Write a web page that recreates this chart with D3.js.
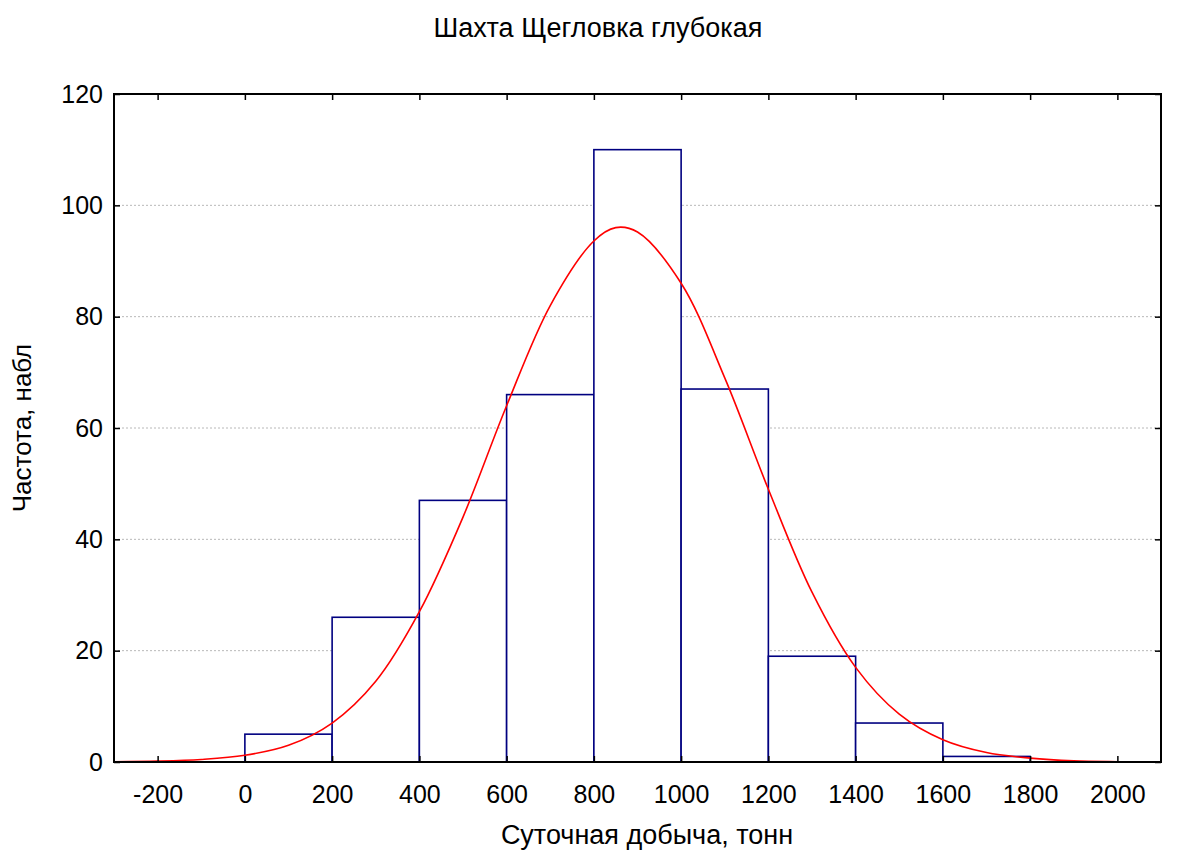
<!DOCTYPE html>
<html>
<head>
<meta charset="utf-8">
<script src="https://cdn.jsdelivr.net/npm/d3@7"></script>
<style>
  body { margin: 0; background: #fff; }
  svg text { font-family: "Liberation Sans", Arial, sans-serif; fill: #000; }
</style>
</head>
<body>
<div id="d3-container"></div>
<script>
/* CONSTANTS AND GLOBALS */
const width = 1184,
  height = 851,
  margin = { top: 94, bottom: 89, left: 114, right: 23 };

// histogram bins (left edge, right edge) and observed counts
const binStart = [0, 200, 400, 600, 800, 1000, 1200, 1400, 1600];
const binEnd = [200, 400, 600, 800, 1000, 1200, 1400, 1600, 1800];
const counts = [5, 26, 47, 66, 110, 67, 19, 7, 1];

// fitted curve
const curveX = [-300, -200, -100, 0, 100, 200, 300, 400, 500, 600, 700, 800, 850, 900, 1000, 1100, 1200, 1300, 1400, 1500, 1600, 1700, 1800, 1900, 2000, 2100];
const curveY = [0.05, 0.15, 0.45, 1.2, 3.0, 7, 14.5, 27, 44, 64, 82, 93.6, 96, 95.2, 86, 69, 49, 30.5, 17, 8.6, 4, 1.7, 0.7, 0.2, 0.05, 0.01];

const xTicks = [-200, 0, 200, 400, 600, 800, 1000, 1200, 1400, 1600, 1800, 2000];
const yTicks = [0, 20, 40, 60, 80, 100, 120];
const gridTicks = [20, 40, 60, 80, 100];

const title = "Шахта Щегловка глубокая";
const xLabel = "Суточная добыча, тонн";
const yLabel = "Частота, набл";

/* SCALES */
const xScale = d3.scaleLinear()
  .domain([-300, 2100])
  .range([margin.left, width - margin.right]);

const yScale = d3.scaleLinear()
  .domain([0, 120])
  .range([height - margin.bottom, margin.top]);

const svg = d3.select("#d3-container")
  .append("svg")
  .attr("width", width)
  .attr("height", height);

// dotted gridlines
svg.append("g")
  .selectAll("line")
  .data(gridTicks)
  .join("line")
  .attr("x1", margin.left)
  .attr("x2", width - margin.right)
  .attr("y1", d => yScale(d))
  .attr("y2", d => yScale(d))
  .attr("stroke", "#b8b8b8")
  .attr("stroke-width", 1)
  .attr("stroke-dasharray", "2,2");

// histogram bars
svg.append("g")
  .selectAll("rect")
  .data(counts)
  .join("rect")
  .attr("x", (d, i) => xScale(binStart[i]))
  .attr("y", d => yScale(d))
  .attr("width", (d, i) => xScale(binEnd[i]) - xScale(binStart[i]))
  .attr("height", d => yScale(0) - yScale(d))
  .attr("fill", "#fff")
  .attr("stroke", "#000080")
  .attr("stroke-width", 1.6);

// fitted curve
const line = d3.line()
  .x(d => xScale(d[0]))
  .y(d => yScale(d[1]))
  .curve(d3.curveCatmullRom);

svg.append("path")
  .datum(curveX.map((x, i) => [x, curveY[i]]))
  .attr("d", line)
  .attr("fill", "none")
  .attr("stroke", "#ff0000")
  .attr("stroke-width", 1.6);

/* AXES */
const tickFmt = d => String(d); // plain hyphen minus, like the original

svg.append("g")
  .attr("transform", `translate(0, ${height - margin.bottom})`)
  .call(d3.axisBottom(xScale).tickValues(xTicks).tickFormat(tickFmt).tickSizeInner(-6).tickSizeOuter(0).tickPadding(23));

svg.append("g")
  .attr("transform", `translate(0, ${margin.top})`)
  .call(d3.axisTop(xScale).tickValues(xTicks).tickFormat("").tickSizeInner(-6).tickSizeOuter(0));

svg.append("g")
  .attr("transform", `translate(${margin.left}, 0)`)
  .call(d3.axisLeft(yScale).tickValues(yTicks).tickFormat(tickFmt).tickSizeInner(-6).tickSizeOuter(0).tickPadding(11));

svg.append("g")
  .attr("transform", `translate(${width - margin.right}, 0)`)
  .call(d3.axisRight(yScale).tickValues(yTicks).tickFormat("").tickSizeInner(-6).tickSizeOuter(0));

svg.selectAll(".domain").remove();
svg.selectAll(".tick line").attr("stroke", "#000").attr("stroke-width", 1.5);
svg.selectAll(".tick text")
  .style("font-family", "'Liberation Sans', Arial, sans-serif")
  .style("font-size", "25px")
  .attr("fill", "#000");

// plot frame
svg.append("rect")
  .attr("x", margin.left)
  .attr("y", margin.top)
  .attr("width", width - margin.left - margin.right)
  .attr("height", height - margin.top - margin.bottom)
  .attr("fill", "none")
  .attr("stroke", "#000")
  .attr("stroke-width", 2);

/* LABELS */
svg.append("text")
  .attr("x", 598)
  .attr("y", 37)
  .attr("text-anchor", "middle")
  .attr("font-size", "27px")
  .text(title);

svg.append("text")
  .attr("x", 647)
  .attr("y", 844)
  .attr("text-anchor", "middle")
  .attr("font-size", "27px")
  .text(xLabel);

svg.append("text")
  .attr("transform", `translate(31, 428) rotate(-90)`)
  .attr("text-anchor", "middle")
  .attr("font-size", "26px")
  .text(yLabel);
</script>
</body>
</html>
